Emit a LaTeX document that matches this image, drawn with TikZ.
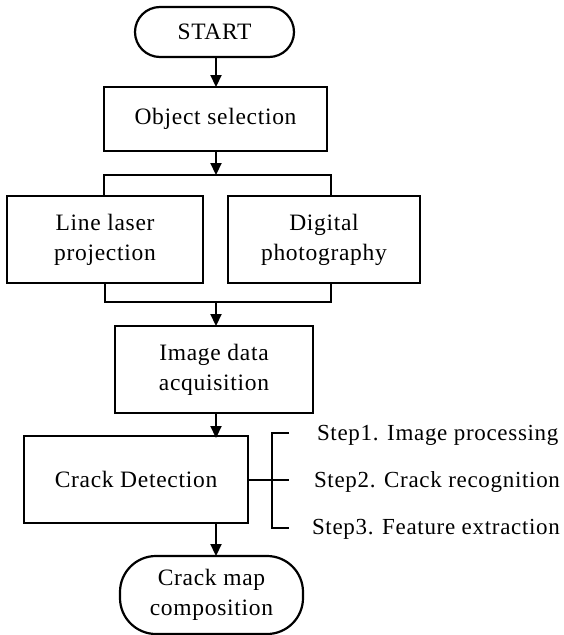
\documentclass[tikz,border=0pt]{standalone}
\usepackage{fontspec}
\setmainfont{Liberation Serif}[LetterSpace=3]
\usetikzlibrary{arrows.meta}
\begin{document}
\begin{tikzpicture}[x=1pt,y=-1pt,
  every node/.style={font=\fontsize{23.5}{30}\selectfont, inner sep=0pt, outer sep=0pt, align=center},
  box/.style={draw, line width=2.2pt, rectangle},
  term/.style={draw, line width=2.2pt, rectangle},
  conn/.style={line width=2.2pt},
  arr/.style={line width=2.2pt, -{Triangle[length=12pt,width=11pt]}},
  steptext/.style={anchor=west, font=\fontsize{23}{30}\selectfont}
]
\useasboundingbox (0,0) rectangle (564,635);
\node[term, rounded corners=25pt, minimum width=159pt, minimum height=50pt] (start) at (214.5,32) {START};
\node[box, minimum width=223pt, minimum height=64pt] (obj) at (215.5,119) {Object selection};
\node[box, minimum width=196pt, minimum height=87pt] (laser) at (105,239.5) {Line laser\\projection};
\node[box, minimum width=192pt, minimum height=87pt] (photo) at (324,239.5) {Digital\\photography};
\node[box, minimum width=198pt, minimum height=87pt] (img) at (214,369.5) {Image data\\acquisition};
\node[box, minimum width=224pt, minimum height=87pt] (crack) at (136,479.5) {Crack Detection};
\node[term, rounded corners=36pt, minimum width=183pt, minimum height=78pt] (map) at (211.5,595) {Crack map\\composition};

\coordinate (split) at (216,175);
\coordinate (sl) at (104,175);
\coordinate (sr) at (331,175);
\coordinate (ml) at (105,302);
\coordinate (mr) at (331,302);
\coordinate (merge) at (216,302);
\coordinate (bmid) at (272,480);
\coordinate (btop) at (272,433);
\coordinate (bbot) at (272,528);
\coordinate (ttop) at (289,433);
\coordinate (tmid) at (289,480);
\coordinate (tbot) at (289,528);

\draw[arr] (start.south -| 216,0) -- (obj.north -| 216,0);
\draw[arr] (obj.south -| 216,0) -- (split);
\draw[conn] (laser.north -| sl) -- (sl) -- (sr) -- (photo.north -| sr);
\draw[conn] (laser.south -| ml) -- (ml) -- (mr) -- (photo.south -| mr);
\draw[arr] (merge) -- (img.north -| merge);
\draw[arr] (img.south -| 216,0) -- ([yshift=-2pt]crack.north -| 216,0);
\draw[arr] (crack.south -| 216,0) -- (map.north -| 216,0);
\draw[conn] (crack.east |- bmid) -- (tmid);
\draw[conn] (ttop) -- (btop) -- (bbot) -- (tbot);

\node[steptext] (s1) at (317,435) {Step1. Image processing};
\node[steptext] (s2) at (314,482) {Step2. Crack recognition};
\node[steptext] (s3) at (312,529) {Step3. Feature extraction};
\end{tikzpicture}
\end{document}
